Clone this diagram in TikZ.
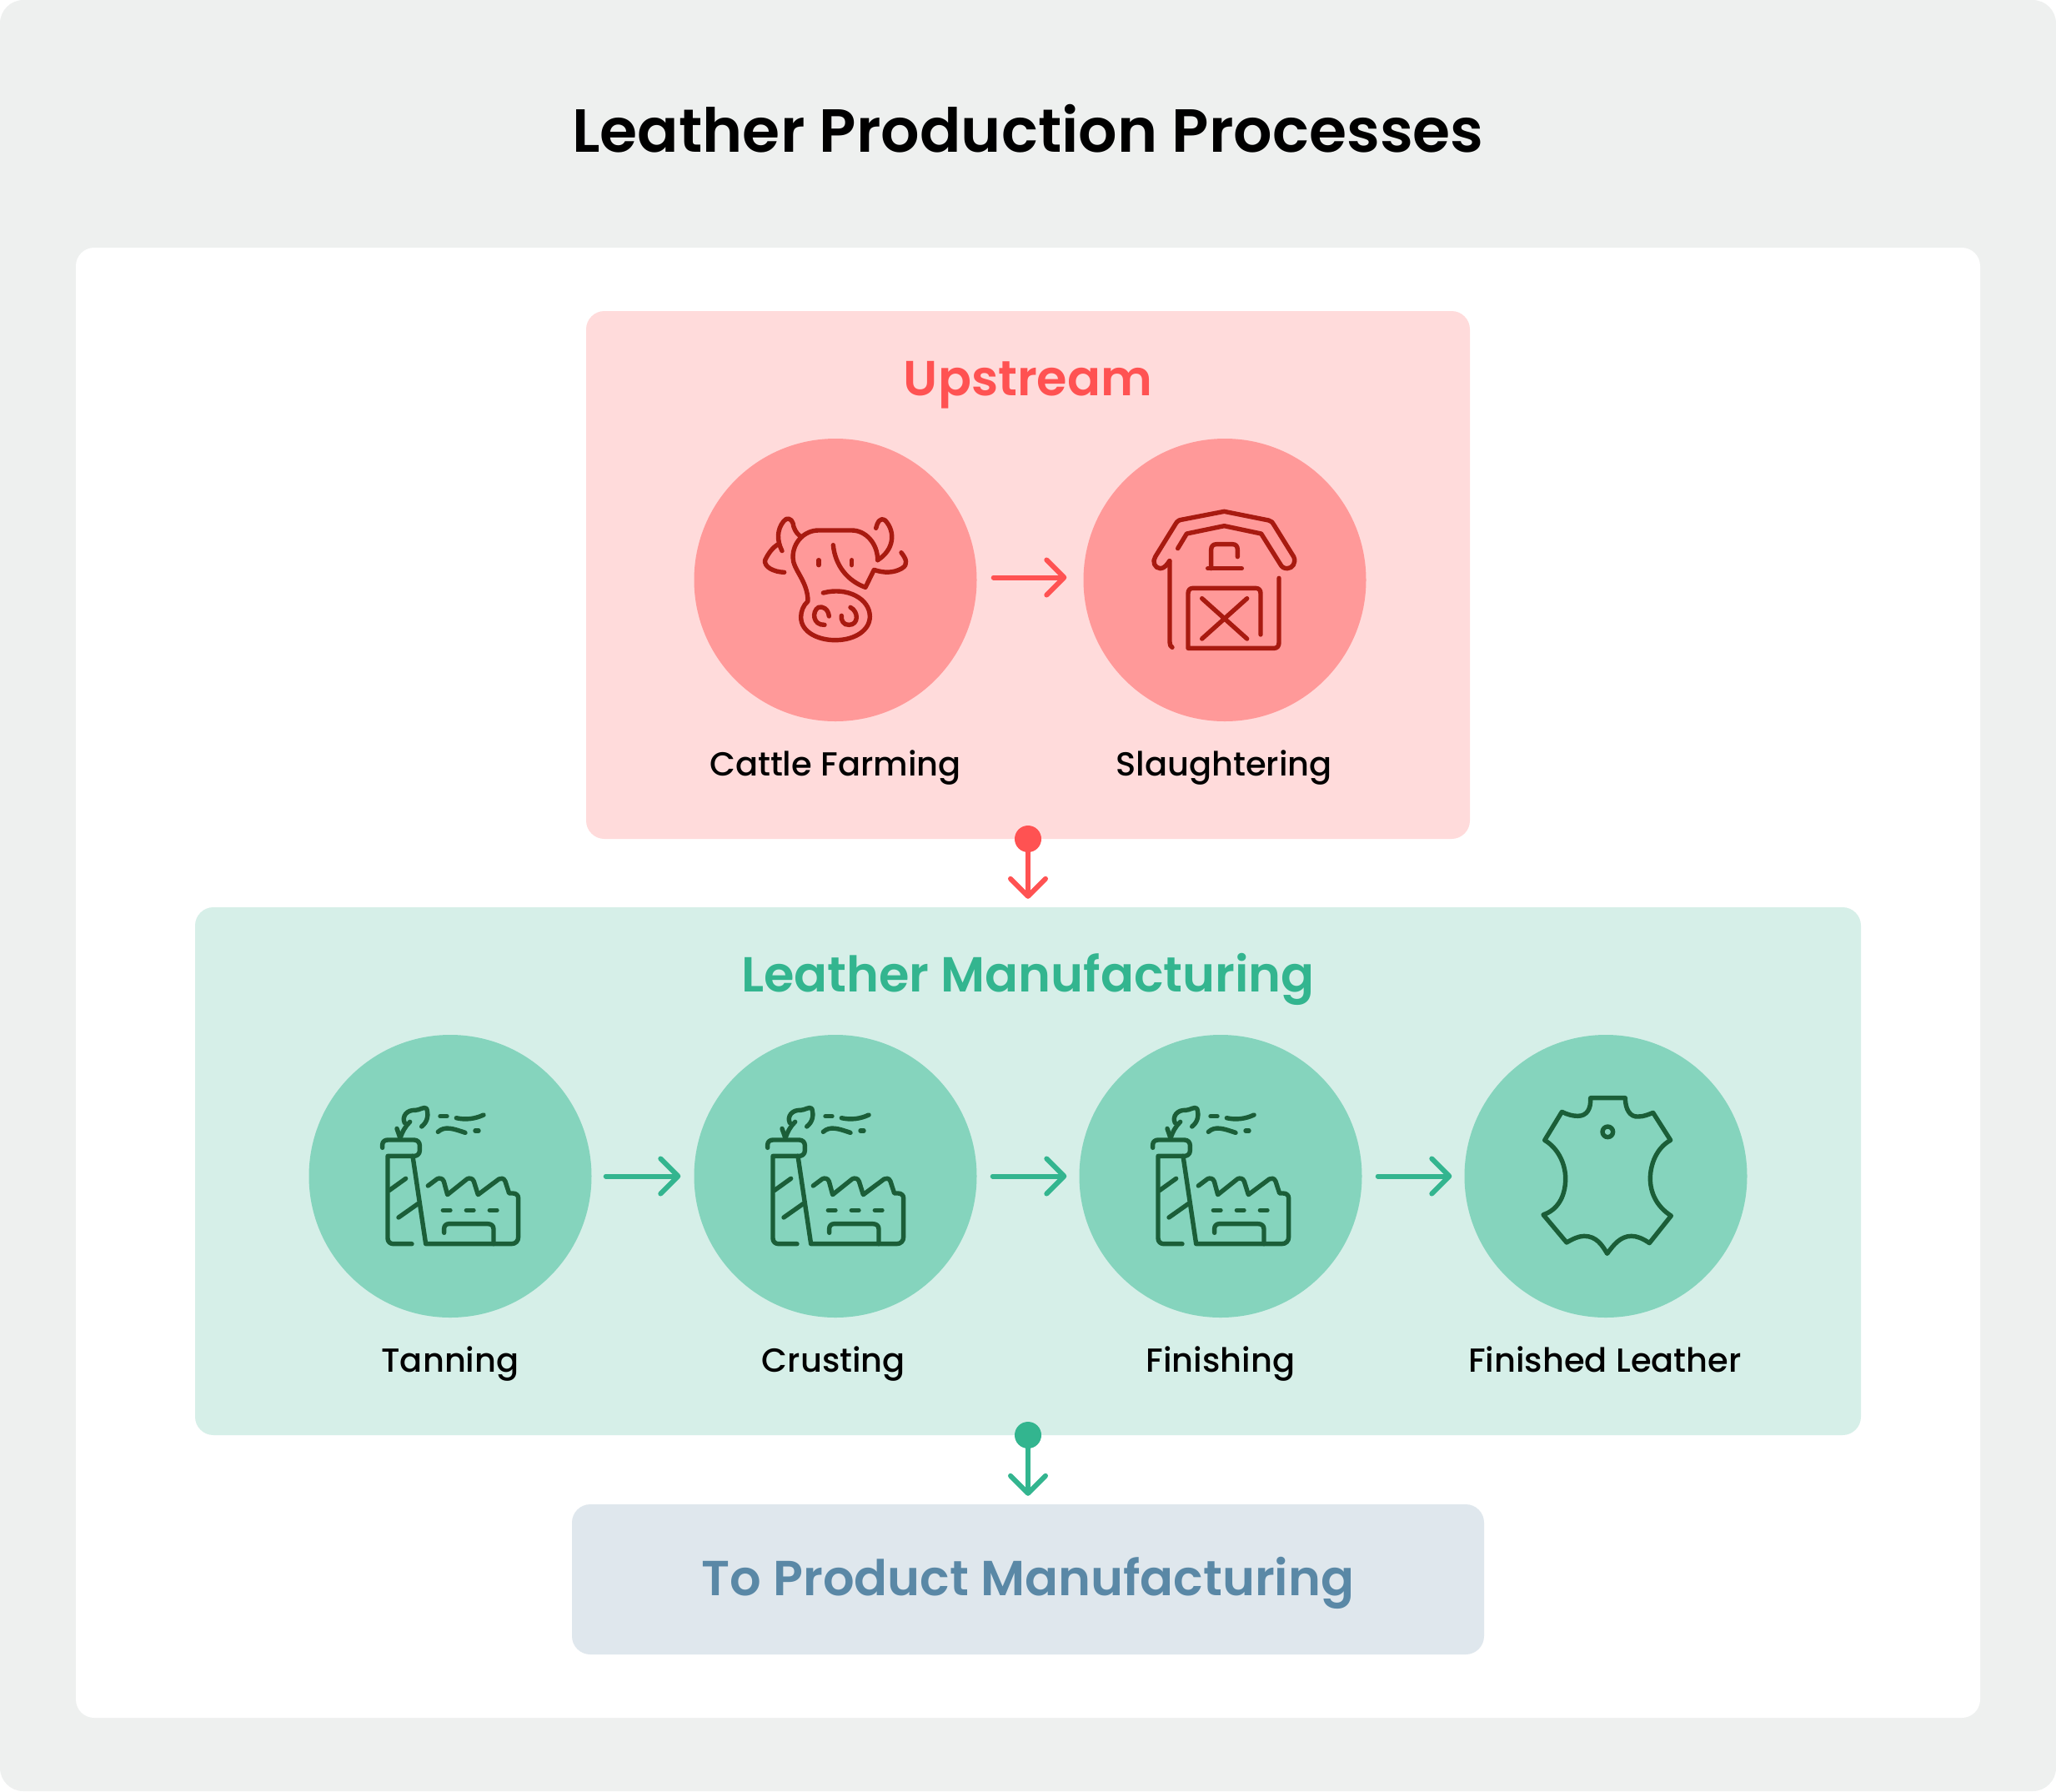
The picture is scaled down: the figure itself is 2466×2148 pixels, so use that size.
\documentclass[tikz,border=0pt]{standalone}
\usepackage{fontspec}
\usetikzlibrary{arrows.meta}
\setmainfont{Poppins Medium}
\newfontfamily\headfont{Poppins SemiBold}
\definecolor{pagebg}{HTML}{EEF0EF}
\definecolor{upbox}{HTML}{FFDBDB}
\definecolor{upcirc}{HTML}{FF9999}
\definecolor{upicon}{HTML}{A81A10}
\definecolor{uparrow}{HTML}{FF5252}
\definecolor{grbox}{HTML}{D6EFE8}
\definecolor{grcirc}{HTML}{85D4BD}
\definecolor{gricon}{HTML}{1B5E38}
\definecolor{grarrow}{HTML}{33B58F}
\definecolor{prodbox}{HTML}{DFE7ED}
\definecolor{prodtext}{HTML}{5A88A6}
\newcommand{\factoryicon}[2]{%
\begin{scope}[shift={(#1,#2)},x=0.33333pt,y=-0.33333pt,iconline,gricon]
\draw (266,409) -- (266,398) .. controls (266,388) and (274,381) .. (285,381) -- (380,381) .. controls (392,381) and (400,390) .. (400,400) -- (400,420) .. controls (400,431) and (391,439) .. (380,439) -- (285,439) -- (285,735) .. controls (285,747) and (294,755) .. (305,755) -- (372,755);
\draw (375,439) -- (422,755) -- (730,755) .. controls (745,755) and (755,745) .. (755,730) -- (755,590) .. controls (755,580) and (747,573) .. (735,573) -- (722,573) -- (708,530) .. controls (703,518) and (692,517) .. (685,522) -- (610,578) -- (595,530) .. controls (590,518) and (578,517) .. (570,522) -- (500,578) -- (487,530) .. controls (482,518) and (470,517) .. (462,522) -- (430,546);
\draw (290,563) -- (350,520);
\draw (324,660) -- (395,610);
\draw (484,634) -- (510,634);
\draw (568,634) -- (594,634);
\draw (652,634) -- (678,634);
\draw (488,715) -- (488,700) .. controls (488,690) and (495,683) .. (505,683) -- (645,683) .. controls (658,683) and (666,690) .. (666,702) -- (666,755);
\draw (330,375) .. controls (338,350) and (350,330) .. (365,316);
\draw (318,340) -- (330,375);
\draw (346,320) .. controls (335,295) and (355,272) .. (385,274) .. controls (400,274) and (415,260) .. (425,268) .. controls (432,290) and (430,315) .. (407,333);
\draw (474,296) -- (498,296);
\draw (532,302) .. controls (565,310) and (600,305) .. (630,291);
\draw (466,352) .. controls (490,330) and (520,340) .. (564,355);
\draw (600,348) -- (612,348);
\end{scope}}
\tikzset{
  x=1pt,y=-1pt,
  iconline/.style={line width=5.4pt,line cap=round,line join=round},
  boxshape/.style={rounded corners=22pt,draw=none,inner sep=0pt},
  stepcirc/.style={circle,draw=none,inner sep=0pt,minimum size=339pt},
  stepname/.style={anchor=base,inner sep=0pt,text=black,font=\fontsize{40}{44}\selectfont},
  headname/.style={anchor=base,inner sep=0pt,font=\headfont\fontsize{59}{64}\selectfont},
  hookarrow/.style={line width=6pt,line cap=round,line join=round,-{Straight Barb[length=21pt,width=42pt,round]}},
  enddot/.style={circle,draw=none,inner sep=0pt,minimum size=32pt},
}
\begin{document}
\begin{tikzpicture}
\useasboundingbox (0,0) rectangle (2466,2148);
\fill[pagebg,rounded corners=28pt] (0,0) rectangle (2466,2148);
\fill[white,rounded corners=22pt] (91,297) rectangle (2375,2060);
\node[anchor=base,inner sep=0pt,text=black,font=\headfont\fontsize{73}{80}\selectfont] (title) at (1233,182) {Leather Production Processes};

\node[boxshape,fill=upbox,minimum width=1060pt,minimum height=633pt] (upstream) at (1233,689.5) {};
\node[boxshape,fill=grbox,minimum width=1998pt,minimum height=633pt] (mfg) at (1233,1404.5) {};
\node[boxshape,fill=prodbox,minimum width=1094pt,minimum height=180pt] (prod) at (1233,1894) {};

\node[headname,text=uparrow] (uphead) at (1233,474) {Upstream};
\node[headname,text=grarrow] (mfghead) at (1233,1189) {Leather Manufacturing};
\node[headname,text=prodtext] (prodhead) at (1233,1913) {To Product Manufacturing};

\node[stepcirc,fill=upcirc] (cow) at (1002,695.5) {};
\node[stepcirc,fill=upcirc] (barn) at (1469,695.5) {};
\node[stepcirc,fill=grcirc] (tan) at (540,1410.5) {};
\node[stepcirc,fill=grcirc] (crust) at (1002,1410.5) {};
\node[stepcirc,fill=grcirc] (finish) at (1464,1410.5) {};
\node[stepcirc,fill=grcirc] (leather) at (1926,1410.5) {};

\node[stepname] (cowl) at (1002,930) {Cattle Farming};
\node[stepname] (barnl) at (1468,930) {Slaughtering};
\node[stepname] (tanl) at (540,1645) {Tanning};
\node[stepname] (crustl) at (1000,1645) {Crusting};
\node[stepname] (finishl) at (1464,1645) {Finishing};
\node[stepname] (leatherl) at (1925,1645) {Finished Leather};

\draw[hookarrow,uparrow] ([xshift=20pt,yshift=3pt]cow.east) -- ([xshift=-20pt,yshift=3pt]barn.west);
\draw[hookarrow,grarrow] ([xshift=17pt]tan.east) -- ([xshift=-16pt]crust.west);
\draw[hookarrow,grarrow] ([xshift=19pt]crust.east) -- ([xshift=-15pt]finish.west);
\draw[hookarrow,grarrow] ([xshift=19pt]finish.east) -- ([xshift=-15pt]leather.west);

\node[enddot,fill=uparrow] (updot) at (1233,1006) {};
\node[enddot,fill=grarrow] (mfgdot) at (1233,1721) {};
\draw[hookarrow,uparrow] (updot.center) -- ([yshift=10pt]mfg.north);
\draw[hookarrow,grarrow] (mfgdot.center) -- ([yshift=10pt]prod.north);

% cow
\begin{scope}[shift={(830,520)},x=0.33333pt,y=-0.33333pt,iconline,upicon]
\draw (668,455) .. controls (668,395) and (625,348) .. (575,348) -- (455,348) .. controls (405,348) and (363,390) .. (363,445) .. controls (363,490) and (417,530) .. (417,603) .. controls (400,618) and (392,640) .. (392,660) .. controls (392,715) and (455,743) .. (515,743) .. controls (590,743) and (640,705) .. (640,658) .. controls (640,595) and (560,550) .. (472,573);
\draw (388,368) .. controls (375,358) and (365,340) .. (363,322) .. controls (358,305) and (340,300) .. (330,315) .. controls (305,345) and (305,385) .. (324,422);
\draw (310,398) .. controls (290,410) and (275,430) .. (263,455) .. controls (258,480) and (295,498) .. (332,499);
\draw (662,340) .. controls (667,320) and (675,300) .. (695,312) .. controls (735,355) and (725,420) .. (668,455);
\draw (753,428) .. controls (770,450) and (780,470) .. (755,485) .. controls (725,502) and (690,502) .. (655,490) -- (624,553) .. controls (560,530) and (515,475) .. (508,401);
\draw (456,455) -- (456,473);
\draw (575,455) -- (575,473);
\draw (493,657) .. controls (490,630) and (470,620) .. (455,625) .. controls (430,640) and (435,690) .. (477,688);
\draw (570,625) .. controls (600,640) and (600,688) .. (565,688) .. controls (545,690) and (535,670) .. (538,655);
\end{scope}

% barn
\begin{scope}[shift={(1300,520)},x=0.33333pt,y=-0.33333pt,iconline,upicon]
\draw (308,458) .. controls (300,470) and (290,485) .. (275,485) .. controls (255,485) and (245,460) .. (257,443) -- (330,325) .. controls (335,315) and (345,310) .. (350,310) -- (505,280) -- (665,312) .. controls (675,315) and (680,320) .. (683,327) -- (755,443) .. controls (765,465) and (750,485) .. (732,485) .. controls (720,485) and (712,480) .. (707,470) -- (638,360) -- (505,332) -- (370,360) -- (338,413);
\draw (309,458) -- (309,750) .. controls (309,760) and (312,766) .. (318,769);
\draw (702,520) -- (702,752) .. controls (702,765) and (695,772) .. (685,772) -- (375,772) -- (375,575) .. controls (375,563) and (382,556) .. (392,556) -- (618,556) .. controls (630,556) and (636,563) .. (636,575) -- (636,723);
\draw (425,593) -- (587,738);
\draw (587,593) -- (425,738);
\draw (446,485) -- (568,485);
\draw (458,485) -- (458,418) .. controls (458,405) and (465,398) .. (477,398) -- (535,398) .. controls (547,398) and (553,405) .. (553,418) -- (553,443);
\end{scope}

\factoryicon{370}{1240}
\factoryicon{832}{1240}
\factoryicon{1294}{1240}

% leather
\begin{scope}[shift={(1760,1240)},x=0.33333pt,y=-0.33333pt,iconline,gricon]
\draw (443,230) -- (568,230) .. controls (568,270) and (585,300) .. (615,297) .. controls (635,297) and (650,290) .. (668,283) -- (731,382) .. controls (680,410) and (658,470) .. (658,520) .. controls (658,570) and (680,620) .. (733,654) -- (655,752) .. controls (630,735) and (610,727) .. (590,727) .. controls (550,727) and (525,760) .. (503,790) .. controls (485,760) and (465,727) .. (420,727) .. controls (400,727) and (380,737) .. (357,750) -- (273,650) .. controls (320,635) and (353,590) .. (353,520) .. controls (353,465) and (325,410) .. (278,382) -- (340,280) .. controls (360,290) and (380,295) .. (397,295) .. controls (430,295) and (445,270) .. (443,230) -- cycle;
\draw (505,352) circle[radius=6.3pt];
\end{scope}
\end{tikzpicture}
\end{document}
